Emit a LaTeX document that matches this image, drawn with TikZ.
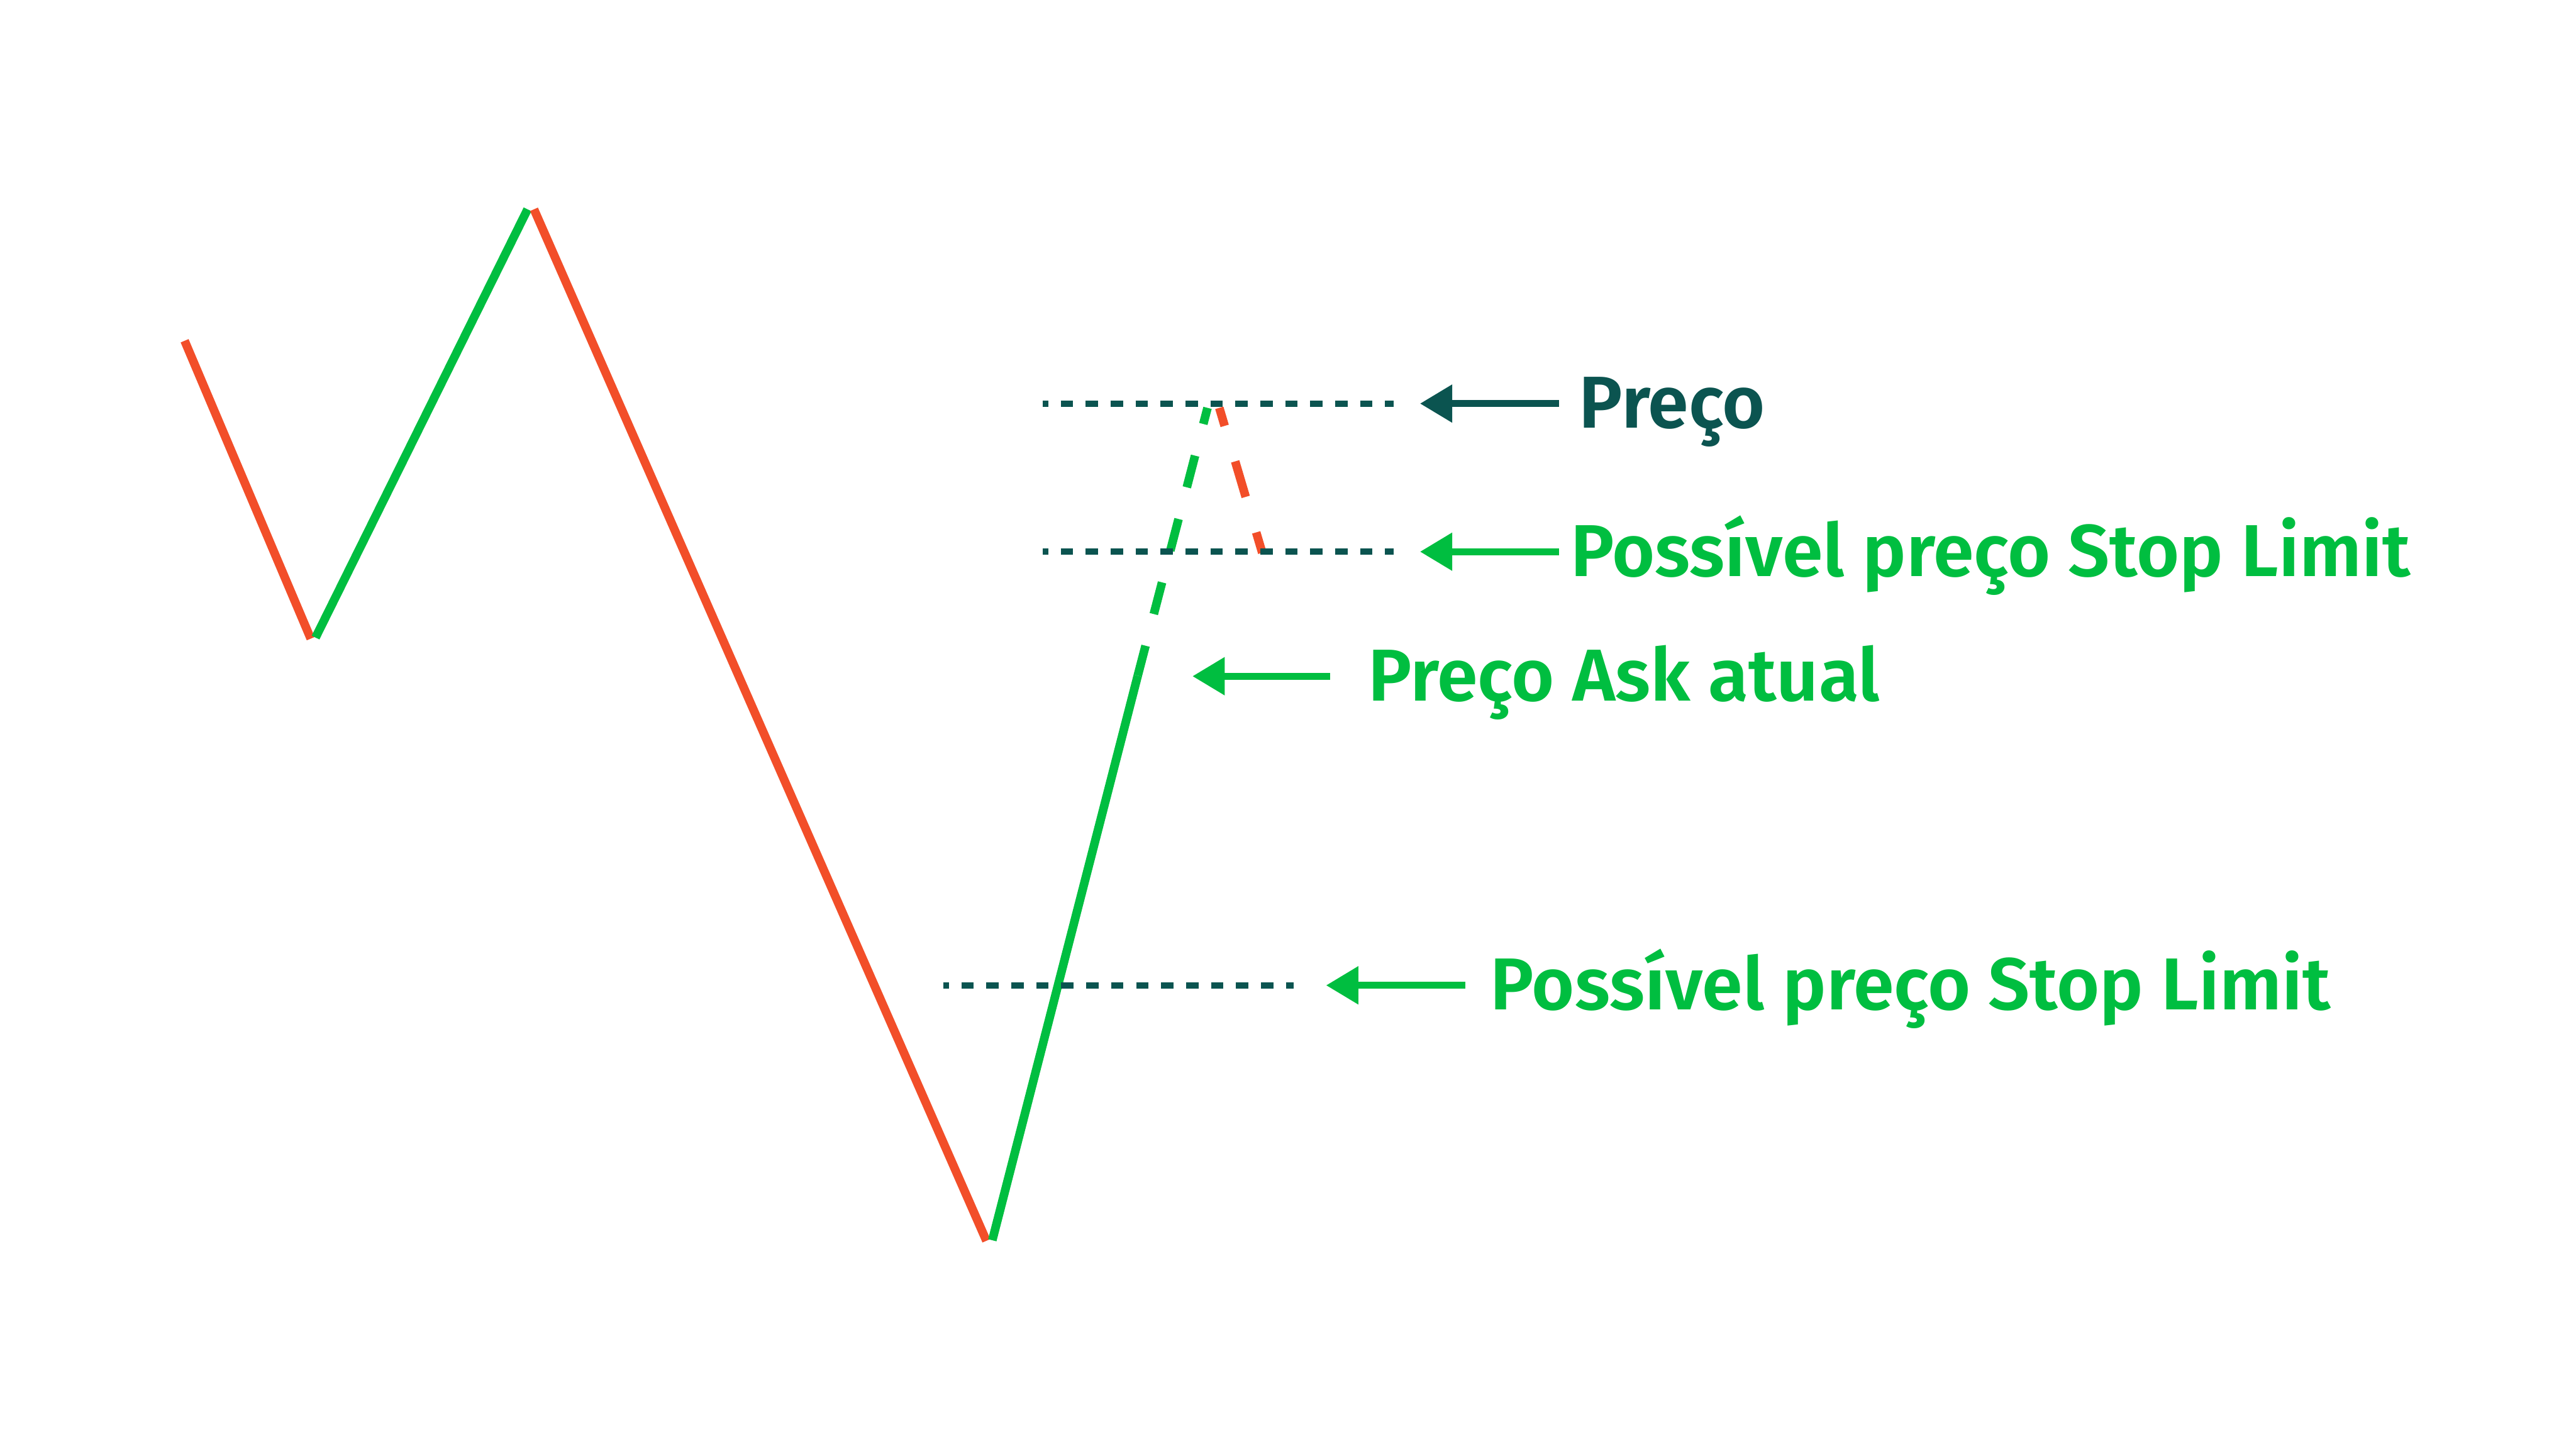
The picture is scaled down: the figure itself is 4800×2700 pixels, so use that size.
\documentclass[tikz,border=0pt]{standalone}
\usepackage{fontspec}
\setmainfont{Fira Sans}[UprightFont={* SemiBold}]
\usetikzlibrary{arrows.meta}
\definecolor{pred}{HTML}{F24E29}
\definecolor{pgreen}{HTML}{00BE40}
\definecolor{pteal}{HTML}{0B5450}
\begin{document}
\begin{tikzpicture}[x=1pt,y=-1pt,
  pline/.style={line width=16pt},
  dotline/.style={draw=pteal,line width=11.5pt,dash pattern=on 23pt off 23.5pt,dash phase=13pt},
  arr/.style={line width=12.5pt,-{Triangle[length=60pt,width=68pt]}},
  lbl/.style={anchor=base west,inner sep=0pt,font=\fontsize{137}{162}\selectfont}]
\useasboundingbox (0,0) rectangle (4800,2700);
\fill[white] (0,0) rectangle (4800,2700);
% price path
\draw[pline,pred] (344,635) -- (579,1190);
\draw[pline,pgreen] (588,1188) -- (983,390);
\draw[pline,pred] (995,390) -- (1838,2312);
\draw[pline,pgreen] (1849,2311) -- (2120,1259);
\draw[pline,pgreen,dash pattern=on 61pt off 61pt,dash phase=30pt] (2250,760) -- (2120,1259);
\draw[pline,pred,dash pattern=on 69pt off 69pt,dash phase=34pt] (2272,760) -- (2352,1030);
% dotted levels
\coordinate (d1a) at (1943,752); \coordinate (d1b) at (2597,752);
\coordinate (d2a) at (1943,1028); \coordinate (d2b) at (2597,1028);
\coordinate (d3a) at (1758,1836); \coordinate (d3b) at (2411,1836);
\draw[dotline] (d1a) -- (d1b);
\draw[dotline] (d2a) -- (d2b);
\draw[dotline] (d3a) -- (d3b);
% labels
\node[lbl,text=pteal] (lpreco) at (2942,798) {Preço};
\node[lbl,text=pgreen] (lstop1) at (2926,1074) {Possível preço Stop Limit};
\node[lbl,text=pgreen] (lask) at (2549,1306) {Preço Ask atual};
\node[lbl,text=pgreen] (lstop2) at (2777,1882) {Possível preço Stop Limit};
% arrows
\coordinate (a1s) at (2905,752); \coordinate (a1t) at (2646,752);
\coordinate (a2s) at (2905,1028); \coordinate (a2t) at (2646,1028);
\coordinate (a3s) at (2478,1260); \coordinate (a3t) at (2222,1260);
\coordinate (a4s) at (2730,1836); \coordinate (a4t) at (2471,1836);
\draw[arr,pteal] (a1s) -- (a1t);
\draw[arr,pgreen] (a2s) -- (a2t);
\draw[arr,pgreen] (a3s) -- (a3t);
\draw[arr,pgreen] (a4s) -- (a4t);
\end{tikzpicture}
\end{document}
